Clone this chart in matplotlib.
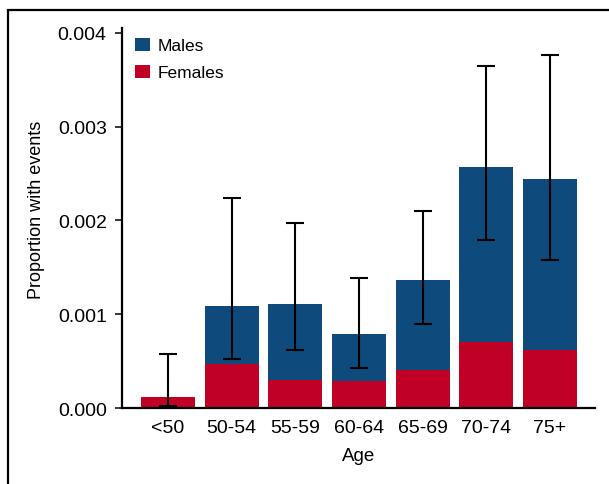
import numpy as np
import matplotlib
matplotlib.use('Agg')
import matplotlib.pyplot as plt
from matplotlib.patches import Rectangle

ages = ['<50', '50-54', '55-59', '60-64', '65-69', '70-74', '75+']
females = [0.00012, 0.00047, 0.00030, 0.00029, 0.00040, 0.00070, 0.00062]
males = [0.0, 0.00062, 0.00081, 0.00050, 0.00097, 0.00187, 0.00182]
ci_low = [0.00002, 0.00052, 0.00062, 0.00043, 0.00090, 0.00179, 0.00158]
ci_high = [0.00058, 0.00224, 0.00197, 0.00139, 0.00210, 0.00365, 0.00376]

male_blue = '#0e4a7c'
female_red = '#c00025'
tick_font = ['Liberation Sans', 'DejaVu Sans']

fig = plt.figure(figsize=(6.09, 4.85), dpi=100)
ax = fig.add_axes([0.2003, 0.1567, 0.9770 - 0.2003, 0.9402 - 0.1567])

x = np.arange(len(ages))
total = np.array(females) + np.array(males)
ax.bar(x, females, width=0.85, color=female_red, label='Females', zorder=2)
ax.bar(x, males, width=0.85, bottom=females, color=male_blue, label='Males', zorder=2)

yerr = [total - np.array(ci_low), np.array(ci_high) - total]
ax.errorbar(x, total, yerr=yerr, fmt='none', ecolor='black', elinewidth=1.5,
            capsize=6.2, capthick=1.5, zorder=3)

ax.set_xlim(-0.722, 6.707)
ax.set_ylim(0, 0.004053)
ax.set_yticks([0, 0.001, 0.002, 0.003, 0.004])
ax.set_yticklabels(['0.000', '0.001', '0.002', '0.003', '0.004'])
ax.set_xticks(x)
ax.set_xticklabels(ages)

for s in ['top', 'right']:
    ax.spines[s].set_visible(False)
for s in ['left', 'bottom']:
    ax.spines[s].set_linewidth(1.6)

ax.tick_params(axis='y', length=5, width=1.1, pad=6, labelsize=14)
ax.tick_params(axis='x', length=0, pad=8, labelsize=14)
for lab in ax.get_xticklabels() + ax.get_yticklabels():
    lab.set_family(tick_font)

ax.set_ylabel('Proportion with events', fontsize=13, family=tick_font)
ax.set_xlabel('Age', fontsize=13.5, family=tick_font)
ax.yaxis.set_label_coords(-0.163, 0.524)
ax.xaxis.set_label_coords(0.5, -0.102)

handles, labels = ax.get_legend_handles_labels()
ax.legend(handles[::-1], labels[::-1], loc='upper left', bbox_to_anchor=(0.0275, 0.975),
          frameon=False, borderaxespad=0, borderpad=0, handlelength=0.85,
          handleheight=0.8, handletextpad=0.45, labelspacing=0.67,
          prop={'family': tick_font, 'size': 12.5})

# outer frame of the panel, running off the right and bottom edges
fig.add_artist(Rectangle((8 / 609, -0.1), 1.2, 1.1 - 11 / 485, transform=fig.transFigure,
                         fill=False, edgecolor='black', linewidth=1.6, clip_on=False))

fig.savefig('out.png', dpi=100)
